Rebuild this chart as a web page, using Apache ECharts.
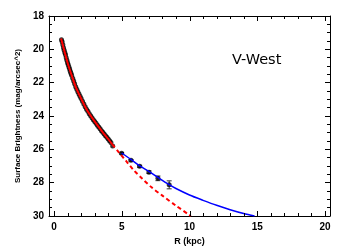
<!DOCTYPE html>
<html>
<head>
<meta charset="utf-8">
<script src="https://cdn.jsdelivr.net/npm/echarts@6/dist/echarts.min.js"></script>
<style>html,body{margin:0;padding:0;background:#fff}#c{width:346px;height:248px}</style>
</head>
<body>
<div id="c"></div>
<script>
// Dense inner profile data (R kpc, mag/arcsec^2)
var innerR = [0.55,0.6,0.65,0.7,0.75,0.8,0.85,0.9,0.95,1.0,1.05,1.1,1.15,1.2,1.25,1.3,1.38,1.45,1.52,1.6,1.68,1.76,1.84,1.92,2.0,2.1,2.2,2.3,2.4,2.5,2.6,2.7,2.8,2.9,3.0,3.1,3.2,3.3,3.4,3.5,3.6,3.7,3.8,3.9,4.0,4.1,4.2,4.33];
var innerMu = [19.42,19.55,19.72,19.9,20.05,20.2,20.33,20.5,20.65,20.8,20.92,21.06,21.18,21.32,21.44,21.55,21.74,21.9,22.07,22.25,22.4,22.54,22.68,22.82,22.95,23.12,23.28,23.44,23.6,23.72,23.86,23.98,24.1,24.22,24.33,24.44,24.55,24.66,24.77,24.88,24.98,25.08,25.18,25.28,25.38,25.48,25.59,25.8];
// Outer profile points with errors
var outerR = [4.99,5.68,6.32,7.01,7.67,8.5];
var outerMu = [26.24,26.66,27.02,27.37,27.74,28.13];
var outerErr = [0.05,0.05,0.06,0.08,0.14,0.24];
// Inner fit (red, solid over data, dashed beyond)
var fitSolidR = [0.52,0.75,1.0,1.3,1.6,2.0,2.4,2.8,3.2,3.6,4.0,4.3];
var fitSolidMu = [19.35,20.05,20.8,21.55,22.25,22.95,23.6,24.1,24.55,24.98,25.38,25.7];
var fitDashR = [4.3,4.8,5.3,5.85,6.5,7.2,8.0,9.0,10.1];
var fitDashMu = [25.7,26.2,26.68,27.22,27.75,28.28,28.78,29.38,30.0];
// Outer fit (blue)
var blueR = [4.99,5.7,6.3,7.0,7.7,8.5,9.0,10.0,11.0,12.0,13.0,14.0,14.8];
var blueMu = [26.22,26.62,26.98,27.32,27.7,28.12,28.35,28.74,29.06,29.36,29.62,29.85,30.0];
// X tick values (kpc) and y range
var xMajorTicks = [0,5,10,15,20];
var xMinorTicks = [1,2,3,4,6,7,8,9,11,12,13,14,16,17,18,19];
var yRange = [18, 30], yMajorStep = 2;

function pairs(a,b){return a.map(function(v,i){return [v,b[i]];});}

var chart = echarts.init(document.getElementById('c'), null, {renderer:'canvas'});
var XMIN=-0.37, XMAX=20.37;
var lblFont = {fontFamily:'Liberation Sans', fontWeight:'bold', fontSize:10, color:'#000'};
function yAx(pos, labels){
  var o = {type:'value', position:pos, inverse:true, min:yRange[0], max:yRange[1], interval:yMajorStep,
    splitLine:{show:false},
    axisLine:{show:true, onZero:false, lineStyle:{color:'#000',width:1}},
    axisTick:{show:true, inside:true, length:5, lineStyle:{color:'#000',width:1}},
    minorTick:{show:true, splitNumber:4, length:3, lineStyle:{color:'#000',width:1}},
    axisLabel:labels ? Object.assign({show:true, margin:5}, lblFont) : {show:false}};
  if(labels){o.name='Surface Brightness (mag/arcsec^2)'; o.nameLocation='middle'; o.nameGap=19;
    o.nameTextStyle={fontFamily:'Liberation Sans', fontWeight:'bold', fontSize:8, color:'#000'};}
  return o;
}
// x-axis ticks drawn through the axis scale (bottom and top, pointing inward)
function tickSeries(vals, len){
  return {type:'custom', data:vals.map(function(v){return [v];}), clip:false, silent:true, z:5,
    renderItem:function(params, api){
      var b = api.coord([api.value(0), yRange[1]]);
      var t = api.coord([api.value(0), yRange[0]]);
      var x = Math.round(b[0]) + 0.5;
      return {type:'group', children:[
        {type:'line', shape:{x1:x,y1:b[1],x2:x,y2:b[1]-len}, style:{stroke:'#000',lineWidth:1}},
        {type:'line', shape:{x1:x,y1:t[1],x2:x,y2:t[1]+len}, style:{stroke:'#000',lineWidth:1}}
      ]};
    }};
}
var option = {
  animation:false,
  backgroundColor:'#fff',
  grid:{left:49, right:16, top:16, bottom:32, containLabel:false, outerBoundsMode:'none'},
  xAxis:[
    {type:'value', position:'bottom', min:XMIN, max:XMAX, splitLine:{show:false},
      axisLine:{show:true, onZero:false, lineStyle:{color:'#000',width:1}},
      axisTick:{show:false},
      axisLabel:Object.assign({show:true, margin:6, customValues:xMajorTicks}, lblFont),
      name:'R (kpc)', nameLocation:'middle', nameGap:18,
      nameTextStyle:{fontFamily:'Liberation Sans', fontWeight:'bold', fontSize:9, color:'#000'}},
    {type:'value', position:'top', min:XMIN, max:XMAX, splitLine:{show:false},
      axisLine:{show:true, onZero:false, lineStyle:{color:'#000',width:1}},
      axisTick:{show:false}, axisLabel:{show:false}}
  ],
  yAxis:[yAx('left', true), yAx('right', false)],
  graphic:[{type:'text', left:232, top:53, style:{text:'V-West', fontFamily:'DejaVu Sans', fontSize:14.5, fill:'#000'}}],
  series:[
    {type:'scatter', data:pairs(innerR, innerMu), symbol:'circle', symbolSize:5, itemStyle:{color:'#000'}, z:2},
    {type:'custom', data:outerR.map(function(r,i){return [r, outerMu[i]-outerErr[i], outerMu[i]+outerErr[i]];}),
      renderItem:function(params, api){
        var lo = api.coord([api.value(0), api.value(1)]);
        var hi = api.coord([api.value(0), api.value(2)]);
        var w = 2.5;
        return {type:'group', children:[
          {type:'line', shape:{x1:lo[0],y1:lo[1],x2:hi[0],y2:hi[1]}, style:{stroke:'#333',lineWidth:1}},
          {type:'line', shape:{x1:lo[0]-w,y1:lo[1],x2:lo[0]+w,y2:lo[1]}, style:{stroke:'#333',lineWidth:1}},
          {type:'line', shape:{x1:hi[0]-w,y1:hi[1],x2:hi[0]+w,y2:hi[1]}, style:{stroke:'#333',lineWidth:1}}
        ]};
      }, z:2},
    {type:'scatter', data:pairs(outerR, outerMu), symbol:'circle', symbolSize:5, itemStyle:{color:'#000'}, z:3},
    {type:'line', data:pairs(fitSolidR, fitSolidMu), showSymbol:false, smooth:0.3, lineStyle:{color:'#ff0000', width:2}, z:4},
    {type:'line', data:pairs(fitDashR, fitDashMu), showSymbol:false, smooth:0.3, lineStyle:{color:'#ff0000', width:2, type:[4,3]}, z:4},
    {type:'line', data:pairs(blueR, blueMu), showSymbol:false, smooth:0.3, lineStyle:{color:'#0000ff', width:1.5}, z:4},
    tickSeries(xMinorTicks, 3),
    tickSeries(xMajorTicks, 5)
  ]
};
chart.setOption(option);
</script>
</body>
</html>
